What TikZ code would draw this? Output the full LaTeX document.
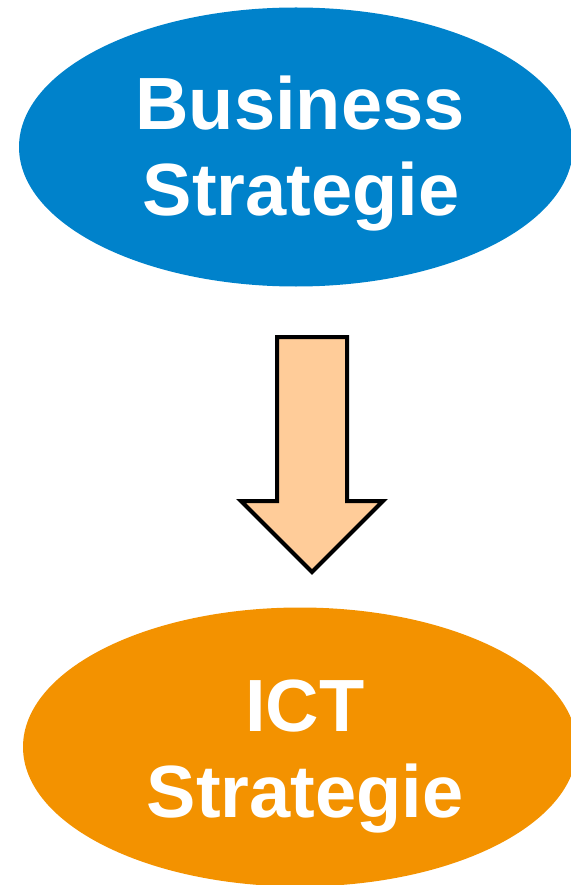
\documentclass[tikz,border=0pt]{standalone}
\usepackage{fontspec}
\setmainfont{Liberation Sans}
\usetikzlibrary{shapes.geometric,shapes.arrows}
\definecolor{bizblue}{HTML}{0082CB}
\definecolor{ictorange}{HTML}{F39200}
\definecolor{arrowpeach}{HTML}{FFCC99}
\begin{document}
\begin{tikzpicture}[x=1pt,y=-1pt,
  strat/.style={ellipse,inner sep=0pt,minimum width=554pt,minimum height=279pt,
    text=white,align=center,font=\fontsize{74}{86}\selectfont\bfseries},
  bigarrow/.style={single arrow,draw=black,line width=4pt,fill=arrowpeach,
    inner xsep=0pt,inner ysep=33pt,minimum height=235pt,
    single arrow head extend=36pt,single arrow tip angle=90,rotate=-90}]
\useasboundingbox (0,0) rectangle (570,885);
\node[strat,fill=bizblue,text height=153pt,text depth=15pt] (biz) at (296,147)
  {\hspace*{8pt}Business\\\hspace*{10pt}Strategie};
\node[strat,fill=ictorange,text height=155pt,text depth=15pt] (ict) at (300,747)
  {\hspace*{10pt}ICT\\\hspace*{10pt}Strategie};
\node[bigarrow,anchor=tail] (down) at (312,335) {};
\end{tikzpicture}
\end{document}
